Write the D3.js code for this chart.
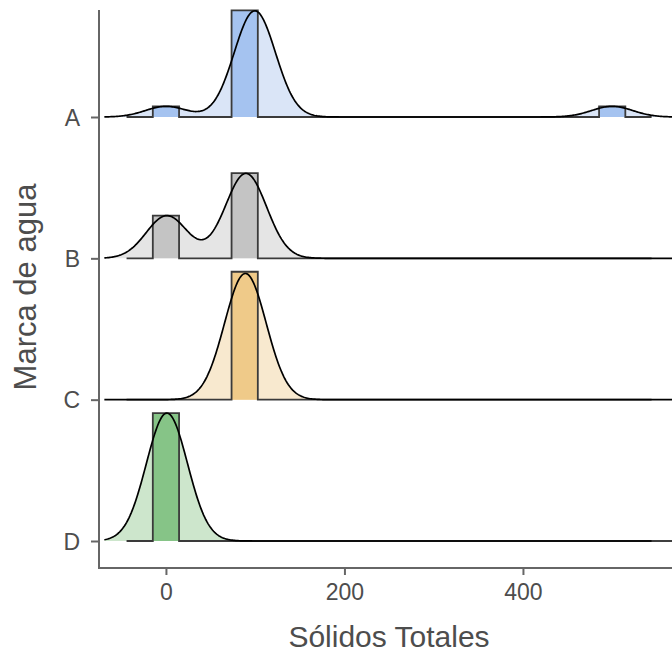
<!DOCTYPE html>
<html>
<head>
<meta charset="utf-8">
<script src="https://cdn.jsdelivr.net/npm/d3@7"></script>
<style>
  body { margin: 0; background: #fff; }
  svg { display: block; font-family: "Liberation Sans", Arial, sans-serif; }
</style>
</head>
<body>
<div id="chart"></div>
<script>
// Sólidos totales por marca de agua
const brands = ["A", "B", "C", "D"];
const valuesA = [0, 95, 97, 98, 99, 100, 100, 101, 102, 102, 102, 500];
const valuesB = [0, 1, 2, 86, 88, 89, 90, 92, 93];
const valuesC = [82, 85, 87, 88, 89, 90, 91, 93, 96];
const valuesD = [0, 0, 0, 1, 1, 2, 2, 3];
const xTicks = [0, 200, 400];

const densityFill = ["#dae5f7", "#e5e5e5", "#f8e9cf", "#cde6cc"];
const histFill = ["#a5c3f0", "#c4c4c4", "#efca89", "#86c487"];

const bandwidth = 23;   // kernel bandwidth shared by all groups
const nBins = 18;

const width = 672, height = 654;
const svg = d3.select("#chart").append("svg")
    .attr("width", width)
    .attr("height", height);

const x = d3.scaleLinear().domain([-75, 567]).range([99, 672]);
const y = d3.scalePoint().domain(brands).range([117, 541]);
const ridgeHeight = 0.905 * y.step();

const groups = [valuesA, valuesB, valuesC, valuesD];
const all = [].concat(...groups);
const [lo, hi] = d3.extent(all);

// histogram bins centred on the minimum, padded with one empty bin on each side
const binW = (hi - lo) / (nBins - 1);
const edges = d3.range(nBins + 3).map(i => lo - 1.5 * binW + i * binW);

// kernel density grid, cut at 3 bandwidths like R's density()
const grid = d3.range(512).map(i => (lo - 3 * bandwidth) + i * ((hi - lo + 6 * bandwidth) / 511));
const gauss = u => Math.exp(-0.5 * u * u) / Math.sqrt(2 * Math.PI);

const ridges = groups.map((vals, gi) => {
    const n = vals.length;
    const dens = grid.map(g => [g, d3.mean(vals, v => gauss((g - v) / bandwidth)) / bandwidth]);
    const hist = d3.range(edges.length - 1).map(i => {
        const c = vals.filter(v => v >= edges[i] && v < edges[i + 1]).length;
        return { x0: edges[i], x1: edges[i + 1], d: c / (n * binW) };
    });
    return { brand: brands[gi], dens, hist, gi };
});

const hDens = d3.scaleLinear()
    .domain([0, d3.max(ridges, r => d3.max(r.dens, d => d[1]))])
    .range([0, ridgeHeight]);
const hHist = d3.scaleLinear()
    .domain([0, d3.max(ridges, r => d3.max(r.hist, b => b.d))])
    .range([0, ridgeHeight]);

ridges.forEach(r => {
    const base = y(r.brand);
    const g = svg.append("g");

    const area = d3.area()
        .x(d => x(d[0]))
        .y0(base)
        .y1(d => base - hDens(d[1]));
    const line = d3.line()
        .x(d => x(d[0]))
        .y(d => base - hDens(d[1]));

    // step outline of the histogram
    const steps = [[r.hist[0].x0, 0]];
    r.hist.forEach(b => { steps.push([b.x0, b.d]); steps.push([b.x1, b.d]); });
    steps.push([r.hist[r.hist.length - 1].x1, 0]);
    const stepArea = d3.area()
        .x(d => x(d[0]))
        .y0(base)
        .y1(d => base - hHist(d[1]));
    const stepLine = d3.line()
        .x(d => x(d[0]))
        .y(d => base - hHist(d[1]));

    g.append("path").attr("d", area(r.dens)).attr("fill", densityFill[r.gi]);
    g.append("path").attr("d", stepArea(steps)).attr("fill", histFill[r.gi]);
    g.append("path").attr("d", stepLine(steps))
        .attr("fill", "none").attr("stroke", "#3a3a3a").attr("stroke-width", 1.8);
    g.append("path").attr("d", line(r.dens))
        .attr("fill", "none").attr("stroke", "#000").attr("stroke-width", 1.7);
});

// axes
const axisColor = "#666";
const textColor = "#4d4d4d";

const xAxis = svg.append("g")
    .attr("transform", "translate(0,568)")
    .call(d3.axisBottom(x).tickValues(xTicks).tickSize(7).tickSizeOuter(0));
xAxis.select(".domain").remove();
xAxis.selectAll(".tick line").attr("stroke", axisColor).attr("stroke-width", 2);
xAxis.selectAll(".tick text")
    .attr("y", 32).attr("dy", null)
    .attr("fill", textColor)
    .style("font-size", "23px");

const yAxis = svg.append("g")
    .attr("transform", "translate(99,0)")
    .call(d3.axisLeft(y).tickSize(8));
yAxis.select(".domain").remove();
yAxis.selectAll(".tick line").attr("stroke", axisColor).attr("stroke-width", 2);
yAxis.selectAll(".tick text")
    .attr("x", -19).attr("dy", "0.36em")
    .attr("fill", textColor)
    .style("font-size", "23px");

svg.append("line")
    .attr("x1", 99).attr("x2", 99).attr("y1", 10).attr("y2", 569)
    .attr("stroke", axisColor).attr("stroke-width", 2);
svg.append("line")
    .attr("x1", 98).attr("x2", 672).attr("y1", 568).attr("y2", 568)
    .attr("stroke", axisColor).attr("stroke-width", 2);

svg.append("text")
    .attr("x", 389).attr("y", 647)
    .attr("text-anchor", "middle")
    .attr("fill", textColor)
    .style("font-size", "30px")
    .text("Sólidos Totales");

svg.append("text")
    .attr("transform", "translate(36,287) rotate(-90)")
    .attr("text-anchor", "middle")
    .attr("fill", textColor)
    .style("font-size", "31px")
    .text("Marca de agua");
</script>
</body>
</html>
